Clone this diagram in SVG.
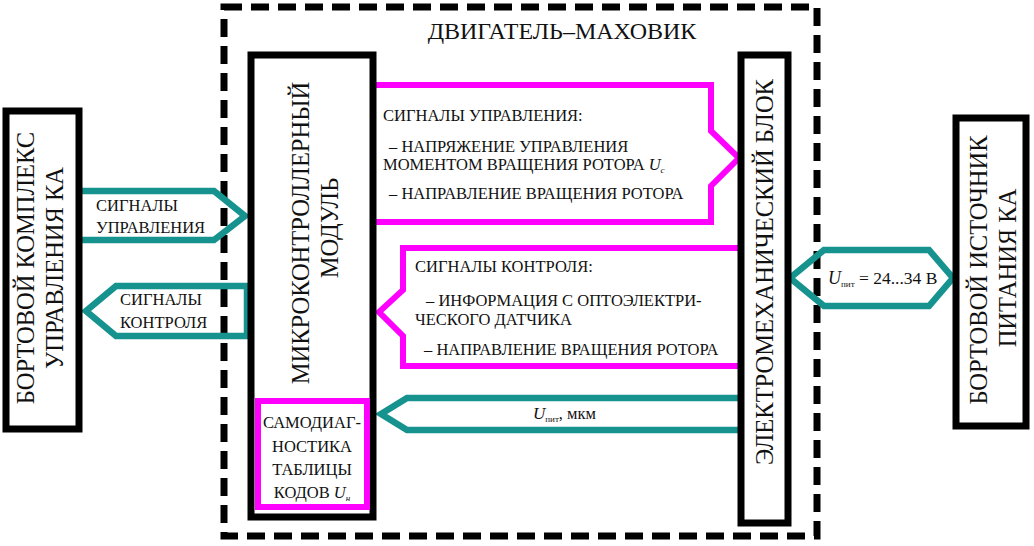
<svg xmlns="http://www.w3.org/2000/svg" width="1034" height="546" viewBox="0 0 1034 546">
<style>
text{font-family:"Liberation Serif","DejaVu Serif",serif;fill:#111}
.big{font-size:24.5px}
.sm{font-size:16.5px}
.box{fill:#fff;stroke:#000;stroke-width:7}
.pink{fill:#fff;stroke:#f0f;stroke-width:6;stroke-linejoin:miter}
.teal{fill:none;stroke:#16938e;stroke-width:6.5;stroke-linejoin:miter}
.dash{fill:none;stroke:#000;stroke-width:7;stroke-dasharray:18 9}
.it{font-style:italic}
</style>
<rect id="frame" class="dash" x="224" y="7" width="593" height="529"/>
<text x="562" y="39" font-size="24" text-anchor="middle">ДВИГАТЕЛЬ–МАХОВИК</text>
<g id="connectors">
  <path class="teal" d="M82,191 H214 L245,216 L214,240 H82"/>
  <text class="sm" x="96" y="211">СИГНАЛЫ</text>
  <text class="sm" x="96" y="233">УПРАВЛЕНИЯ</text>
  <path class="teal" d="M247,286 H116 L86,311 L116,336 H247 Z"/>
  <text class="sm" x="120" y="305">СИГНАЛЫ</text>
  <text class="sm" x="120" y="328">КОНТРОЛЯ</text>
  <path class="pink" d="M376,85 H711 V131 L739,158 L711,186 V222 H376"/>
  <text class="sm" x="383" y="121">СИГНАЛЫ УПРАВЛЕНИЯ:</text>
  <text class="sm" x="389" y="152">– НАПРЯЖЕНИЕ УПРАВЛЕНИЯ</text>
  <text class="sm" x="383" y="170">МОМЕНТОМ ВРАЩЕНИЯ РОТОРА <tspan class="it">U</tspan><tspan class="it" font-size="9" dy="3">c</tspan></text>
  <text class="sm" x="389" y="199">– НАПРАВЛЕНИЕ ВРАЩЕНИЯ РОТОРА</text>
  <path class="pink" d="M741,248 H403 V290 L379,312 L403,336 V366 H741"/>
  <text class="sm" x="415" y="272">СИГНАЛЫ КОНТРОЛЯ:</text>
  <text class="sm" x="426" y="306">– ИНФОРМАЦИЯ С ОПТОЭЛЕКТРИ-</text>
  <text class="sm" x="415" y="325">ЧЕСКОГО ДАТЧИКА</text>
  <text class="sm" x="424" y="355">– НАПРАВЛЕНИЕ ВРАЩЕНИЯ РОТОРА</text>
  <path class="teal" d="M741,398 H407 L381,414 L407,430 H741"/>
  <text class="sm" x="533" y="419"><tspan class="it" font-size="17">U</tspan><tspan font-size="9" dy="3">пит</tspan><tspan dy="-3">, мкм</tspan></text>
  <path class="teal" d="M790,278 L824,250 H929 L953,278 L929,306 H824 Z"/>
  <text x="828" y="284" font-size="17.5"><tspan class="it" font-size="18">U</tspan><tspan font-size="9" dy="3">пит</tspan><tspan dy="-3"> = 24...34 В</tspan></text>
</g>
<g id="kompleks">
  <rect class="box" x="6" y="111" width="73" height="318"/>
  <text class="big" transform="translate(34,268) rotate(-90)" text-anchor="middle">БОРТОВОЙ КОМПЛЕКС</text>
  <text class="big" transform="translate(63,268) rotate(-90)" text-anchor="middle">УПРАВЛЕНИЯ КА</text>
</g>
<g id="mcu">
  <rect class="box" x="251" y="55" width="122" height="462"/>
  <text class="big" transform="translate(309,233) rotate(-90)" text-anchor="middle">МИКРОКОНТРОЛЛЕРНЫЙ</text>
  <text class="big" transform="translate(338,228) rotate(-90)" text-anchor="middle">МОДУЛЬ</text>
</g>
<g id="selfdiag">
  <rect class="pink" x="258" y="401" width="109" height="106"/>
  <text class="sm" x="312" y="428" text-anchor="middle">САМОДИАГ-</text>
  <text class="sm" x="312" y="452" text-anchor="middle">НОСТИКА</text>
  <text class="sm" x="312" y="475" text-anchor="middle">ТАБЛИЦЫ</text>
  <text class="sm" x="312" y="498" text-anchor="middle">КОДОВ <tspan class="it">U</tspan><tspan class="it" font-size="9" dy="3">н</tspan></text>
</g>
<g id="emblock">
  <rect class="box" x="741" y="55" width="47" height="468"/>
  <text class="big" transform="translate(773,272) rotate(-90)" text-anchor="middle">ЭЛЕКТРОМЕХАНИЧЕСКИЙ БЛОК</text>
</g>
<g id="istochnik">
  <rect class="box" x="956" y="118" width="70" height="308"/>
  <text class="big" transform="translate(987,270) rotate(-90)" text-anchor="middle">БОРТОВОЙ ИСТОЧНИК</text>
  <text class="big" transform="translate(1016,268) rotate(-90)" text-anchor="middle">ПИТАНИЯ КА</text>
</g>
</svg>
